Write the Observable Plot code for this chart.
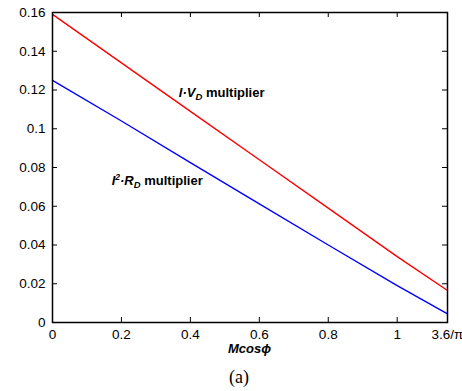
<!DOCTYPE html>
<html>
<head>
<meta charset="utf-8">
<script src="https://cdn.jsdelivr.net/npm/d3@7"></script>
<script src="https://cdn.jsdelivr.net/npm/@observablehq/plot@0.6"></script>
<style>
  body { margin: 0; background: #fff; width: 462px; }
  #caption { font-family: "Liberation Serif", "Times New Roman", serif; font-size: 18px; text-align: left; padding-left: 229px; line-height: 22px; margin-top: 6px; }
</style>
</head>
<body>
<div id="chart"></div>
<div id="caption">(a)</div>
<script>
const xMax = 3.6 / Math.PI;
const mcos = [0, 0.2, 0.4, 0.6, 0.8, 1.0, xMax];
const ivMultiplier = [0.159, 0.134, 0.109, 0.084, 0.059, 0.034, 0.0165];
const i2rMultiplier = [0.125, 0.104, 0.0825, 0.0612, 0.040, 0.019, 0.0045];
const xTicks = [0, 0.2, 0.4, 0.6, 0.8, 1];
const xTickLabels = ["0", "0.2", "0.4", "0.6", "0.8", "1", "3.6/π"];
const yTicks = [0, 0.02, 0.04, 0.06, 0.08, 0.1, 0.12, 0.14, 0.16];
const yTickLabels = ["0", "0.02", "0.04", "0.06", "0.08", "0.1", "0.12", "0.14", "0.16"];
const labelX = [0.368, 0.173];
const labelY = [0.1163, 0.0706];

const red = mcos.map((x, i) => ({x, y: ivMultiplier[i]}));
const blue = mcos.map((x, i) => ({x, y: i2rMultiplier[i]}));
const xLabelVals = [...xTicks, xMax];

const plot = Plot.plot({
  width: 462,
  height: 360,
  marginLeft: 52,
  marginRight: 15,
  marginTop: 12,
  marginBottom: 38,
  style: {fontFamily: "'Liberation Sans', Arial, Helvetica, sans-serif", fontSize: "13.5px", color: "#000", background: "#fff"},
  x: {domain: [0, xMax]},
  y: {domain: [0, 0.16]},
  marks: [
    Plot.line(red, {x: "x", y: "y", stroke: "#ff0000", strokeWidth: 1.4}),
    Plot.line(blue, {x: "x", y: "y", stroke: "#0000ff", strokeWidth: 1.4}),
    Plot.tickX(xTicks.slice(1), {x: d => d, insetTop: 305, stroke: "#000"}),
    Plot.tickX(xTicks.slice(1), {x: d => d, insetBottom: 305, stroke: "#000"}),
    Plot.tickY(yTicks.slice(1, -1), {y: d => d, insetRight: 390, stroke: "#000"}),
    Plot.tickY(yTicks.slice(1, -1), {y: d => d, insetLeft: 390, stroke: "#000"}),
    Plot.frame({stroke: "#000", strokeWidth: 1.5}),
    Plot.axisX(xLabelVals, {tickSize: 0, tickPadding: 7, tickFormat: (d, i) => xTickLabels[i], label: null}),
    Plot.axisY(yTicks, {tickSize: 0, tickPadding: 7, tickFormat: (d, i) => yTickLabels[i], label: null})
  ]
});
document.getElementById("chart").appendChild(plot);

const svg = d3.select(plot);
const sx = plot.scale("x"), sy = plot.scale("y");
const font = "'Liberation Sans', Arial, Helvetica, sans-serif";

// I·V_D multiplier
const t1 = svg.append("text")
  .attr("x", sx.apply(labelX[0])).attr("y", sy.apply(labelY[0]))
  .attr("text-anchor", "start")
  .attr("font-family", font).attr("font-size", 13).attr("font-weight", "bold");
t1.append("tspan").attr("font-style", "italic").text("I·V");
t1.append("tspan").attr("font-style", "italic").attr("font-size", 9.5).attr("dy", 3).text("D");
t1.append("tspan").attr("dy", -3).text(" multiplier");

// I²·R_D multiplier
const t2 = svg.append("text")
  .attr("x", sx.apply(labelX[1])).attr("y", sy.apply(labelY[1]))
  .attr("text-anchor", "start")
  .attr("font-family", font).attr("font-size", 13).attr("font-weight", "bold");
t2.append("tspan").attr("font-style", "italic").text("I");
t2.append("tspan").attr("font-style", "italic").attr("font-size", 8.5).attr("dy", -5).text("2");
t2.append("tspan").attr("font-style", "italic").attr("dy", 5).text("·R");
t2.append("tspan").attr("font-style", "italic").attr("font-size", 9.5).attr("dy", 3).text("D");
t2.append("tspan").attr("dy", -3).text(" multiplier");

// x-axis title
svg.append("text")
  .attr("x", (sx.range[0] + sx.range[1]) / 2).attr("y", 353)
  .attr("text-anchor", "middle")
  .attr("font-family", font).attr("font-size", 13).attr("font-weight", "bold").attr("font-style", "italic")
  .text("Mcosϕ");
</script>
</body>
</html>
